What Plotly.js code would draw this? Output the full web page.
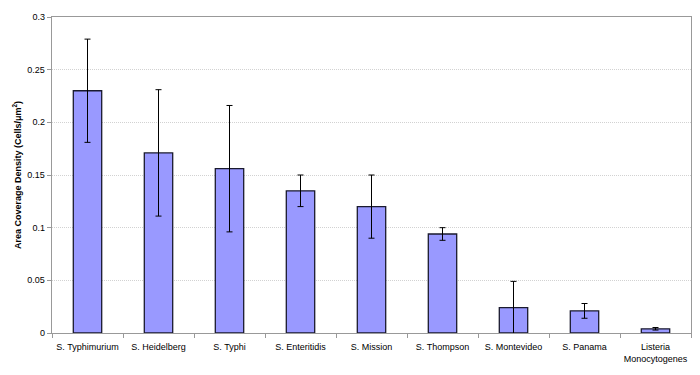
<!DOCTYPE html>
<html>
<head>
<meta charset="utf-8">
<script src="https://cdn.plot.ly/plotly-3.0.1.min.js"></script>
<style>html,body{margin:0;padding:0;background:#fff;}#chart{width:700px;height:375px;}</style>
</head>
<body>
<div id="chart"></div>
<script>
const categories = ["S. Typhimurium","S. Heidelberg","S. Typhi","S. Enteritidis","S. Mission","S. Thompson","S. Montevideo","S. Panama","Listeria<br>Monocytogenes"];
const density = [0.230, 0.171, 0.156, 0.135, 0.120, 0.094, 0.024, 0.021, 0.004];
const errorVals = [0.049, 0.060, 0.060, 0.015, 0.030, 0.006, 0.025, 0.007, 0.0012];
const yTicks = [0, 0.05, 0.1, 0.15, 0.2, 0.25, 0.3];
const yTickText = ["0", "0.05", "0.1", "0.15", "0.2", "0.25", "0.3"];

const trace = {
  type: "bar",
  x: categories,
  y: density,
  width: 0.4,
  marker: {color: "#9999FF", line: {color: "#1a1a2e", width: 1.3}},
  error_y: {type: "data", array: errorVals, visible: true, color: "#000", thickness: 1, width: 3},
  hoverinfo: "skip"
};

const layout = {
  width: 700, height: 375,
  margin: {l: 52, r: 9, t: 17, b: 42},
  paper_bgcolor: "#fff", plot_bgcolor: "#fff",
  showlegend: false,
  font: {family: "Liberation Sans, Arial, sans-serif", size: 9, color: "#000"},
  xaxis: {
    type: "category",
    tickson: "boundaries",
    ticks: "outside", ticklen: 4, tickcolor: "#999",
    ticklabelstandoff: 5,
    showline: true, linecolor: "#999", linewidth: 1.3, mirror: true,
    showgrid: false, zeroline: false,
    tickfont: {size: 9, color: "#000"},
    tickangle: 0
  },
  yaxis: {
    range: [0, 0.3],
    tickvals: yTicks, ticktext: yTickText,
    ticks: "outside", ticklen: 4, tickcolor: "#999",
    showline: true, linecolor: "#999", linewidth: 1.3, mirror: true,
    showgrid: true, gridcolor: "#d2d2d2", griddash: "1px,1px", gridwidth: 1,
    zeroline: false,
    tickfont: {size: 9, color: "#000"},
    title: {text: "<b>Area Coverage Density (Cells/μm<sup>2</sup>)</b>", font: {size: 9, color: "#000"}, standoff: 4}
  }
};

Plotly.newPlot("chart", [trace], layout, {staticPlot: true, displayModeBar: false});
</script>
</body>
</html>
